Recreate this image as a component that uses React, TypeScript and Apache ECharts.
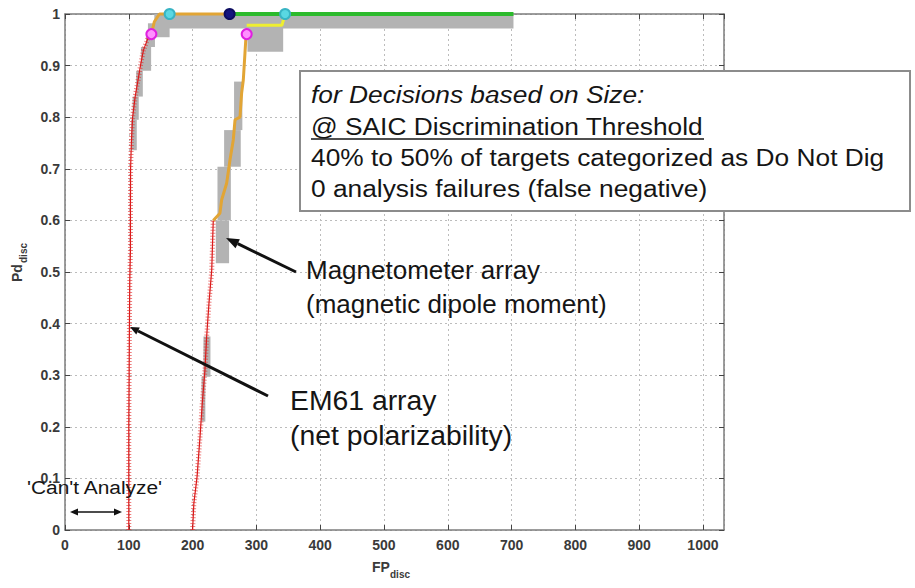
import React, { useEffect, useRef } from 'react';
import * as echarts from 'echarts';

const FONT = '"Liberation Sans", Arial, Helvetica, sans-serif';

// ---- data (x = FP_disc, y = Pd_disc) ----
const em61Red: [number, number][] = [
  [100, 0], [100, 0.1], [100, 0.2], [100.5, 0.3], [101, 0.4], [101.5, 0.48],
  [102.6, 0.543], [102.6, 0.62], [102.8, 0.7], [104, 0.75], [106, 0.8],
  [110, 0.84], [115.6, 0.88], [119, 0.905], [123, 0.93], [130, 0.953], [135.4, 0.961],
];
const em61Orange: [number, number][] = [
  [135.4, 0.961], [140, 0.985], [148, 1], [258, 1],
];
const magRed: [number, number][] = [
  [200, 0], [202, 0.052], [207, 0.103], [211.6, 0.18], [215.2, 0.246],
  [219.4, 0.31], [222, 0.374], [225.7, 0.44], [230, 0.504], [232.4, 0.6],
];
const magOrange: [number, number][] = [
  [232.4, 0.6], [242.9, 0.614], [245.6, 0.64], [253.4, 0.672], [258.6, 0.717],
  [263.8, 0.756], [266.5, 0.795], [274.3, 0.8], [276.9, 0.847], [279.5, 0.872],
  [282.1, 0.924], [283.7, 0.956], [284.8, 0.961],
];
const magYellow: [number, number][] = [
  [284.8, 0.978], [340, 0.978], [345, 1],
];
const greenTop: [number, number][] = [
  [258, 1], [703, 1],
];
const magentaPts: [number, number][] = [[135.4, 0.961], [284.8, 0.961]];
const cyanPts: [number, number][] = [[164, 1], [345, 1]];
const navyPts: [number, number][] = [[258, 1]];
// confidence band blocks: [x1, y1, x2, y2]
const grayBoxes: [number, number, number, number][] = [
  [103.7, 0.736, 112.5, 0.795],
  [106, 0.795, 115.6, 0.84],
  [111.5, 0.84, 122, 0.89],
  [119, 0.89, 135, 0.936],
  [127, 0.936, 141, 0.958],
  [130, 0.955, 164, 0.982],
  [140, 0.972, 703, 1.0],
  [214, 0.21, 220, 0.297],
  [217, 0.297, 228, 0.375],
  [236.4, 0.517, 257.2, 0.6],
  [239, 0.6, 260, 0.704],
  [249.4, 0.704, 275.5, 0.775],
  [265, 0.775, 278, 0.869],
  [286, 0.927, 342, 0.975],
];
const xMin = 0;
const xMax = 1033;
const xStep = 100;
const yMin = 0;
const yMax = 1;
const yStep = 0.1;

const boxLines = [
  'for Decisions based on Size:',
  '@ SAIC Discrimination Threshold',
  '40% to 50% of targets categorized as Do Not Dig',
  '0 analysis failures (false negative)',
];
const magLabel = ['Magnetometer array', '(magnetic dipole moment)'];
const emLabel = ['EM61 array', '(net polarizability)'];
const cantAnalyze = "'Can't Analyze'";

function arrowHead(tx: number, ty: number, fx: number, fy: number, len: number, half: number) {
  const dx = tx - fx, dy = ty - fy;
  const L = Math.hypot(dx, dy);
  const ux = dx / L, uy = dy / L;
  const bx = tx - ux * len, by = ty - uy * len;
  return {
    base: [bx, by],
    points: [[tx, ty], [bx - uy * half, by + ux * half], [bx + uy * half, by - ux * half]],
  };
}

function arrow(fx: number, fy: number, tx: number, ty: number, w: number, len: number, half: number) {
  const h = arrowHead(tx, ty, fx, fy, len, half);
  return [
    { type: 'line', z: 100, shape: { x1: fx, y1: fy, x2: h.base[0], y2: h.base[1] }, style: { stroke: '#111', lineWidth: w } },
    { type: 'polygon', z: 100, shape: { points: h.points }, style: { fill: '#111' } },
  ];
}

function txt(text: string, x: number, y: number, size: number, sx: number, italic = false) {
  return {
    type: 'text', x, y, scaleX: sx, z: 100,
    style: { text, fontFamily: FONT, fontSize: size, fontStyle: italic ? 'italic' : 'normal', fill: '#151515', align: 'left', verticalAlign: 'middle' },
  };
}

const axisLineStyle = { color: '#7c7c7c', width: 1.5 };
const tickStyle = { show: true, inside: true, length: 5, lineStyle: { color: '#444', width: 1 } };
const splitStyle = { show: true, lineStyle: { color: '#bcbcbc', type: [2, 3] as any, width: 1 } };
const axisFont = { fontFamily: FONT, fontSize: 14, fontWeight: 'bold' as const, color: '#3a3a3a' };

function lineSeries(data: [number, number][], color: string, width: number, z: number, extra: any = {}) {
  return {
    type: 'line', data, xAxisIndex: 0, yAxisIndex: 0, symbol: 'none', showSymbol: false,
    clip: false, silent: true, z, lineStyle: { color, width, ...extra },
  };
}

function pointSeries(data: [number, number][], fill: string, border: string) {
  return {
    type: 'scatter', data, xAxisIndex: 0, yAxisIndex: 0, symbolSize: 10, clip: false, silent: true, z: 6,
    itemStyle: { color: fill, borderColor: border, borderWidth: 2, opacity: 1 },
  };
}

export default function App() {
  const ref = useRef<HTMLDivElement>(null);
  useEffect(() => {
    document.body.style.margin = '0';
    const chart = echarts.init(ref.current!, null, { renderer: 'svg' });
    const graphics: any[] = [
      // text box
      { type: 'rect', z: 99, shape: { x: 300, y: 71, width: 610, height: 140 }, style: { fill: '#fff', stroke: '#8c8c8c', lineWidth: 2 } },
      txt(boxLines[0], 311, 95, 23.5, 1.12, true),
      txt(boxLines[1], 311, 127, 23.5, 1.12),
      { type: 'line', z: 100, shape: { x1: 311, y1: 139, x2: 704, y2: 139 }, style: { stroke: '#151515', lineWidth: 1.5 } },
      txt(boxLines[2], 311, 158, 23.5, 1.12),
      txt(boxLines[3], 311, 189, 23.5, 1.12),
      // annotations
      txt(magLabel[0], 306, 270, 26, 1.0),
      txt(magLabel[1], 306, 304, 26, 1.0),
      txt(emLabel[0], 290, 401, 27, 1.05),
      txt(emLabel[1], 290, 436, 27, 1.05),
      ...arrow(296, 272, 226, 238, 3, 13, 5),
      ...arrow(268, 396, 130, 327, 3, 9, 4),
      txt(cantAnalyze, 27, 487, 19, 1.1),
      ...arrow(96, 512, 70, 512, 1.5, 8, 3.5),
      ...arrow(96, 512, 122, 512, 1.5, 8, 3.5),
      // axis names
      {
        type: 'group', x: 24, y: 282, rotation: Math.PI / 2, z: 100,
        children: [
          { type: 'text', x: 0, y: 0, style: { text: 'Pd', fontFamily: FONT, fontSize: 14, fontWeight: 'bold', fill: '#3a3a3a', align: 'left', verticalAlign: 'bottom' } },
          { type: 'text', x: 19, y: 4, style: { text: 'disc', fontFamily: FONT, fontSize: 10, fontWeight: 'bold', fill: '#3a3a3a', align: 'left', verticalAlign: 'bottom' } },
        ],
      },
      { type: 'text', x: 372, y: 567, z: 100, style: { text: 'FP', fontFamily: FONT, fontSize: 14, fontWeight: 'bold', fill: '#3a3a3a', align: 'left', verticalAlign: 'middle' } },
      { type: 'text', x: 390, y: 574, z: 100, style: { text: 'disc', fontFamily: FONT, fontSize: 10, fontWeight: 'bold', fill: '#3a3a3a', align: 'left', verticalAlign: 'middle' } },
    ];

    const option: any = {
      animation: false,
      backgroundColor: '#ffffff',
      grid: { left: 65, right: 191, top: 14, bottom: 58, containLabel: false },
      xAxis: [
        {
          type: 'value', min: xMin, max: xMax, interval: xStep, position: 'bottom',
          axisLine: { show: true, onZero: false, lineStyle: axisLineStyle },
          axisTick: tickStyle,
          axisLabel: { ...axisFont, margin: 8, showMaxLabel: false, formatter: (v: number) => String(Math.round(v)) },
          splitLine: splitStyle,
        },
        {
          type: 'value', min: xMin, max: xMax, interval: xStep, position: 'top',
          axisLine: { show: true, onZero: false, lineStyle: axisLineStyle },
          axisTick: tickStyle, axisLabel: { show: false }, splitLine: { show: false },
        },
      ],
      yAxis: [
        {
          type: 'value', min: yMin, max: yMax, interval: yStep, position: 'left',
          axisLine: { show: true, onZero: false, lineStyle: axisLineStyle },
          axisTick: tickStyle,
          axisLabel: {
            ...axisFont, margin: 5,
            formatter: (v: number) => {
              const r = Math.round(v * 10) / 10;
              return r === 0 ? '0' : r === 1 ? '1' : r.toFixed(1);
            },
          },
          splitLine: splitStyle,
        },
        {
          type: 'value', min: yMin, max: yMax, interval: yStep, position: 'right',
          axisLine: { show: true, onZero: false, lineStyle: axisLineStyle },
          axisTick: tickStyle, axisLabel: { show: false }, splitLine: { show: false },
        },
      ],
      series: [
        {
          type: 'custom', xAxisIndex: 0, yAxisIndex: 0, data: grayBoxes, silent: true, z: 1,
          encode: { x: [0, 2], y: [1, 3] },
          renderItem: (_p: any, api: any) => {
            const a = api.coord([api.value(0), api.value(1)]);
            const b = api.coord([api.value(2), api.value(3)]);
            return {
              type: 'rect',
              shape: { x: Math.min(a[0], b[0]), y: Math.min(a[1], b[1]), width: Math.abs(b[0] - a[0]), height: Math.abs(b[1] - a[1]) },
              style: { fill: '#b3b3b3' },
            };
          },
        },
        lineSeries(em61Red, '#d81818', 1.2, 2),
        lineSeries(em61Red, 'rgba(225,40,40,0.6)', 5, 2, { type: [1, 2] }),
        lineSeries(magRed, '#d81818', 1.2, 2),
        lineSeries(magRed, 'rgba(225,40,40,0.6)', 5, 2, { type: [1, 2] }),
        lineSeries(em61Orange, '#e2a535', 3, 3),
        lineSeries(magOrange, '#e2a535', 3, 3),
        lineSeries(magYellow, '#eeee30', 3, 3),
        lineSeries(greenTop, '#2cba2c', 4, 3),
        pointSeries(magentaPts, '#ff90ff', '#e020e0'),
        pointSeries(cyanPts, '#5ad8e2', '#38b4c4'),
        pointSeries(navyPts, '#14147e', '#0c0c60'),
      ],
      graphic: graphics,
    };
    chart.setOption(option);
    return () => chart.dispose();
  }, []);
  return <div ref={ref} style={{ width: 915, height: 588, background: '#fff' }} />;
}
